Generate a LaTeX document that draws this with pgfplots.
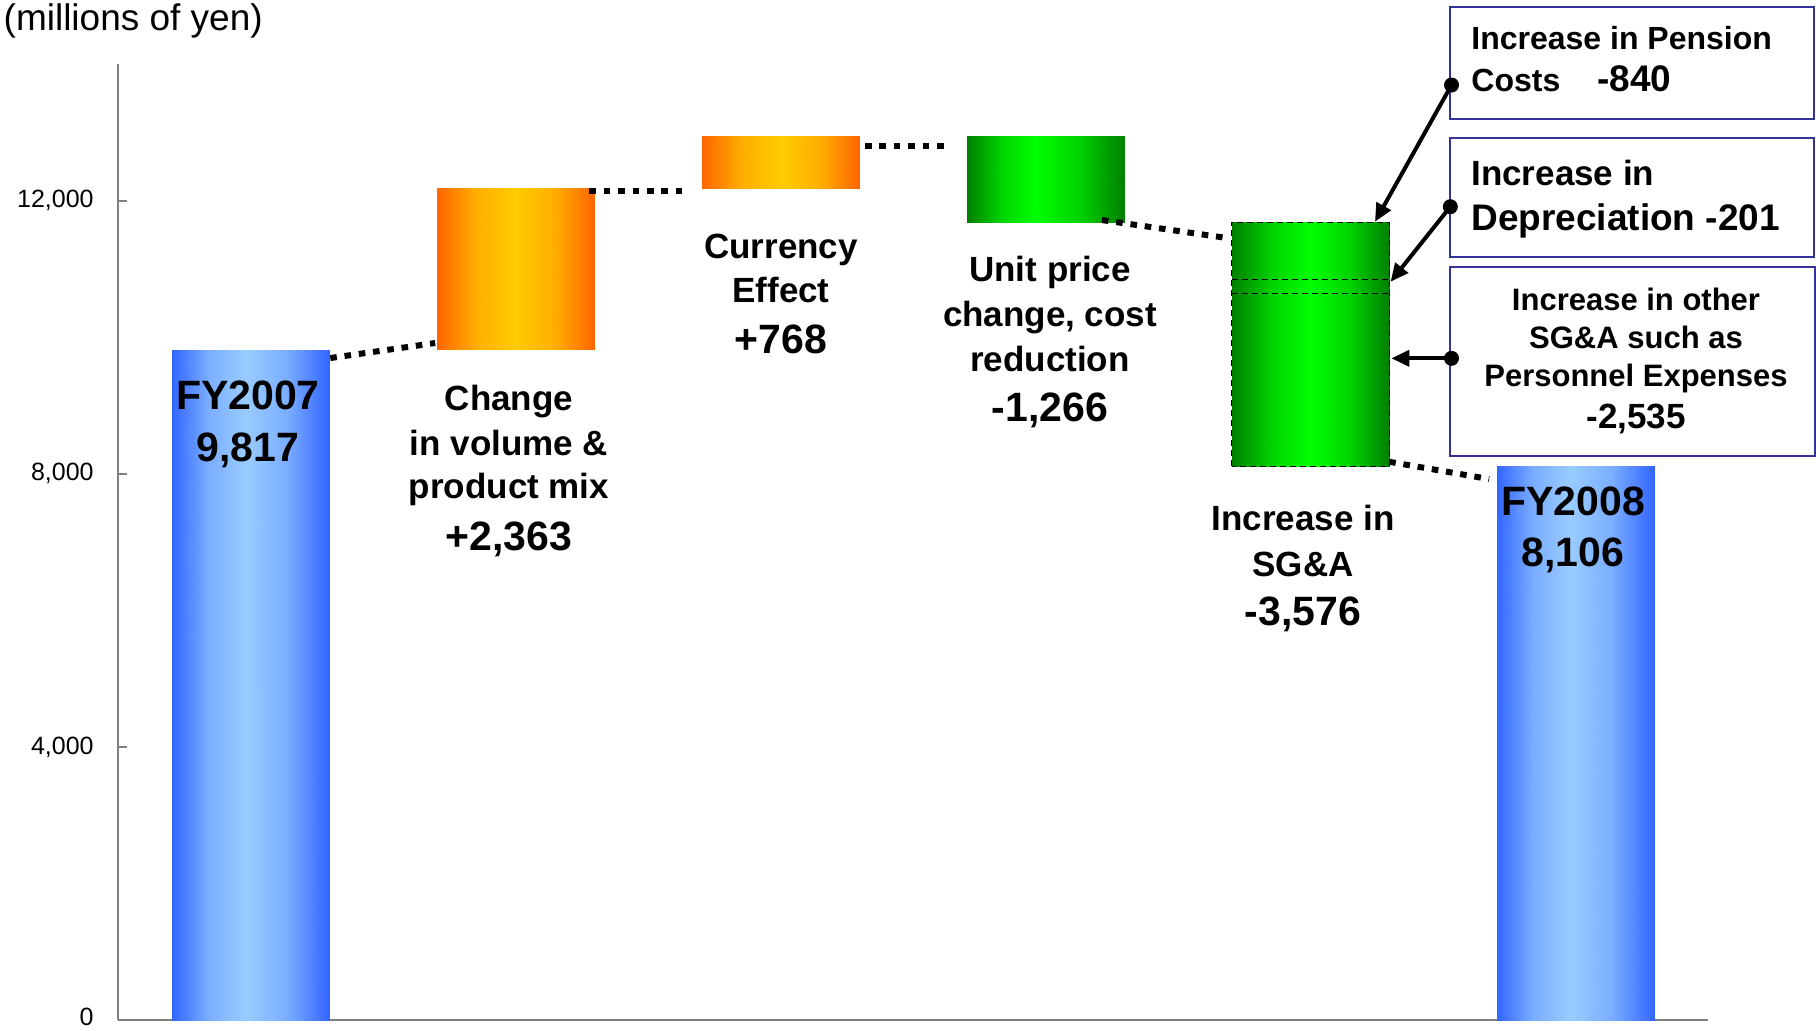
\documentclass[border=0pt]{standalone}
\usepackage{pgfplots}
\pgfplotsset{compat=1.18}
\usepackage{fontspec}
\setmainfont{Liberation Sans}
\usetikzlibrary{arrows.meta}
\definecolor{bluedark}{HTML}{3366FF}
\definecolor{bluelight}{HTML}{99CCFF}
\definecolor{orng}{HTML}{FF6600}
\definecolor{yel}{HTML}{FFCC00}
\definecolor{gdark}{HTML}{008000}
\definecolor{gbright}{HTML}{00FF00}
\definecolor{boxblue}{HTML}{333399}
\definecolor{axgray}{HTML}{808080}
\newcommand{\fs}[1]{\fontsize{#1pt}{#1pt}\selectfont}
\pgfplotsset{
  colormap={bluemap}{color=(bluedark) color=(bluelight!70!bluedark) color=(bluelight)},
  colormap={orangemap}{color=(orng) color=(yel!70!orng) color=(yel)},
  colormap={greenmap}{color=(gdark) color=(gbright!65!gdark) color=(gbright)},
}
% waterfall bars (position: bottom -> top), each drawn as two halves
% whose colour runs from the edge (c=0) to the middle (c=2)
% FY2007      0      0 ->  9817
% volume      1   9817 -> 12180  (+2,363)
% currency    2  12180 -> 12948  (+768)
% unit price  3  11682 -> 12948  (-1,266)
% SG&A        4   8106 -> 11682  (-3,576)
% FY2008      5      0 ->  8106
\begin{document}
\begin{tikzpicture}
\path[use as bounding box] (0,0) rectangle (908pt,-515pt);
\begin{axis}[
  at={(59pt,-510pt)}, anchor=south west,
  scale only axis, width=795pt, height=478pt,
  xmin=-0.5, xmax=5.5, ymin=0, ymax=14000,
  axis lines*=left,
  axis line style={draw=axgray, line width=1pt},
  xtick=\empty,
  ytick={0,4000,8000,12000},
  yticklabels={{\raisebox{3pt}{0}},{4,000},{8,000},{12,000}},
  scaled y ticks=false,
  major tick length=4.5pt,
  tick style={draw=axgray, line width=1pt},
  tick align=inside,
  yticklabel style={font=\fs{12.5}, inner sep=0pt, xshift=-12pt},
  clip=false,
  point meta min=0, point meta max=2,
  wbar/.style={patch, patch type=rectangle, shader=interp, point meta=explicit},
]
\addplot[wbar, colormap name=bluemap] table[meta=c] {
x y c
-0.298 0 0
-0.02 0 2
-0.02 9817 2
-0.298 9817 0
-0.02 0 2
0.298 0 0
0.298 9817 0
-0.02 9817 2
4.702 0 0
4.98 0 2
4.98 8106 2
4.702 8106 0
4.98 0 2
5.298 0 0
5.298 8106 0
4.98 8106 2
};
\addplot[wbar, colormap name=orangemap] table[meta=c] {
x y c
0.702 9817 0
1 9817 2
1 12180 2
0.702 12180 0
1 9817 2
1.298 9817 0
1.298 12180 0
1 12180 2
1.702 12180 0
2 12180 2
2 12948 2
1.702 12948 0
2 12180 2
2.298 12180 0
2.298 12948 0
2 12948 2
};
\addplot[wbar, colormap name=greenmap] table[meta=c] {
x y c
2.702 11682 0
2.96 11682 2
2.96 12948 2
2.702 12948 0
2.96 11682 2
3.298 11682 0
3.298 12948 0
2.96 12948 2
3.702 8106 0
4 8106 2
4 11682 2
3.702 11682 0
4 8106 2
4.298 8106 0
4.298 11682 0
4 11682 2
};

\draw[black, line width=0.6pt, dash pattern=on 3pt off 2pt] (axis cs:3.702,8106) rectangle (axis cs:4.298,11682);
\draw[black, line width=0.6pt, dash pattern=on 3pt off 2pt] (axis cs:3.702,10842) -- (axis cs:4.298,10842);
\draw[black, line width=0.6pt, dash pattern=on 3pt off 2pt] (axis cs:3.702,10641) -- (axis cs:4.298,10641);

\tikzset{conn/.style={black, line width=3pt, dash pattern=on 3.3pt off 3.9pt}}
\draw[conn] (axis cs:0.301,9694) -- (axis cs:0.697,9914);
\draw[conn] (axis cs:1.279,12139) -- (axis cs:1.651,12139);
\draw[conn] (axis cs:2.319,12798) -- (axis cs:2.644,12798);
\draw[conn] (axis cs:3.213,11715) -- (axis cs:3.671,11460);
\draw[conn] (axis cs:4.297,8175) -- (axis cs:4.674,7922);
\end{axis}

\begin{scope}[x=0.5pt, y=-0.5pt]
\node[anchor=base west, inner sep=0pt, font=\fs{18.5}] at (3.3,30.7) {(millions of yen)};
\tikzset{lab/.style={anchor=base, inner sep=0pt, font=\bfseries\fs{17.5}},
         num/.style={anchor=base, inner sep=0pt, font=\bfseries\fs{20.5}}}
% FY2007
\node[num] at (248,409) {FY2007};
\node[num] at (248,461.7) {9,817};
% volume
\node[lab] at (509,410) {Change};
\node[lab] at (509,455) {in volume \&};
\node[lab] at (509,498) {product mix};
\node[num] at (509,550) {+2,363};
% currency
\node[lab] at (781,258.3) {Currency};
\node[lab] at (781,302.7) {Effect};
\node[num] at (781,353.3) {+768};
% unit price
\node[lab] at (1050,281.7) {Unit price};
\node[lab] at (1050,326.7) {change, cost};
\node[lab] at (1050,371.7) {reduction};
\node[num] at (1050,421.7) {-1,266};
% SG&A
\node[lab] at (1303,530) {Increase in};
\node[lab] at (1303,576.7) {SG\&A};
\node[num] at (1303,625) {-3,576};
% FY2008
\node[num] at (1573,515) {FY2008};
\node[num] at (1573,566.7) {8,106};

% boxes
\draw[boxblue, line width=1pt] (1450,7) rectangle (1814,119);
\draw[boxblue, line width=1pt] (1450,138) rectangle (1814,257);
\draw[boxblue, line width=1pt] (1450,267) rectangle (1815,456);
\node[anchor=base west, inner sep=0pt, font=\bfseries\fs{16}] at (1471,49.3) {Increase in Pension};
\node[anchor=base west, inner sep=0pt, font=\bfseries\fs{16}] at (1471,91.7) {Costs};
\node[anchor=base west, inner sep=0pt, font=\bfseries\fs{18.5}] at (1597,91.7) {-840};
\node[anchor=base west, inner sep=0pt, font=\bfseries\fs{17.5}] at (1471,185) {Increase in};
\node[anchor=base west, inner sep=0pt, font=\bfseries\fs{18.5}] at (1471,230) {Depreciation -201};
\node[anchor=base, inner sep=0pt, font=\bfseries\fs{15.5}] at (1636,310) {Increase in other};
\node[anchor=base, inner sep=0pt, font=\bfseries\fs{15.5}] at (1636,348.3) {SG\&A such as};
\node[anchor=base, inner sep=0pt, font=\bfseries\fs{15.5}] at (1636,386.7) {Personnel Expenses};
\node[anchor=base, inner sep=0pt, font=\bfseries\fs{17.5}] at (1636,428) {-2,535};

% arrows
\tikzset{arr/.style={black, line width=2pt, -{Triangle[length=9pt,width=8pt]}}}
\draw[arr] (1451.5,85) -- (1375,221.7);
\draw[arr] (1450.3,206.7) -- (1390.6,281.7);
\draw[arr] (1451.5,358.3) -- (1391.4,358.3);
\fill (1451.5,85) circle[radius=3.75pt];
\fill (1450.3,206.7) circle[radius=3.75pt];
\fill (1451.5,358.3) circle[radius=3.75pt];
\end{scope}
\end{tikzpicture}
\end{document}
